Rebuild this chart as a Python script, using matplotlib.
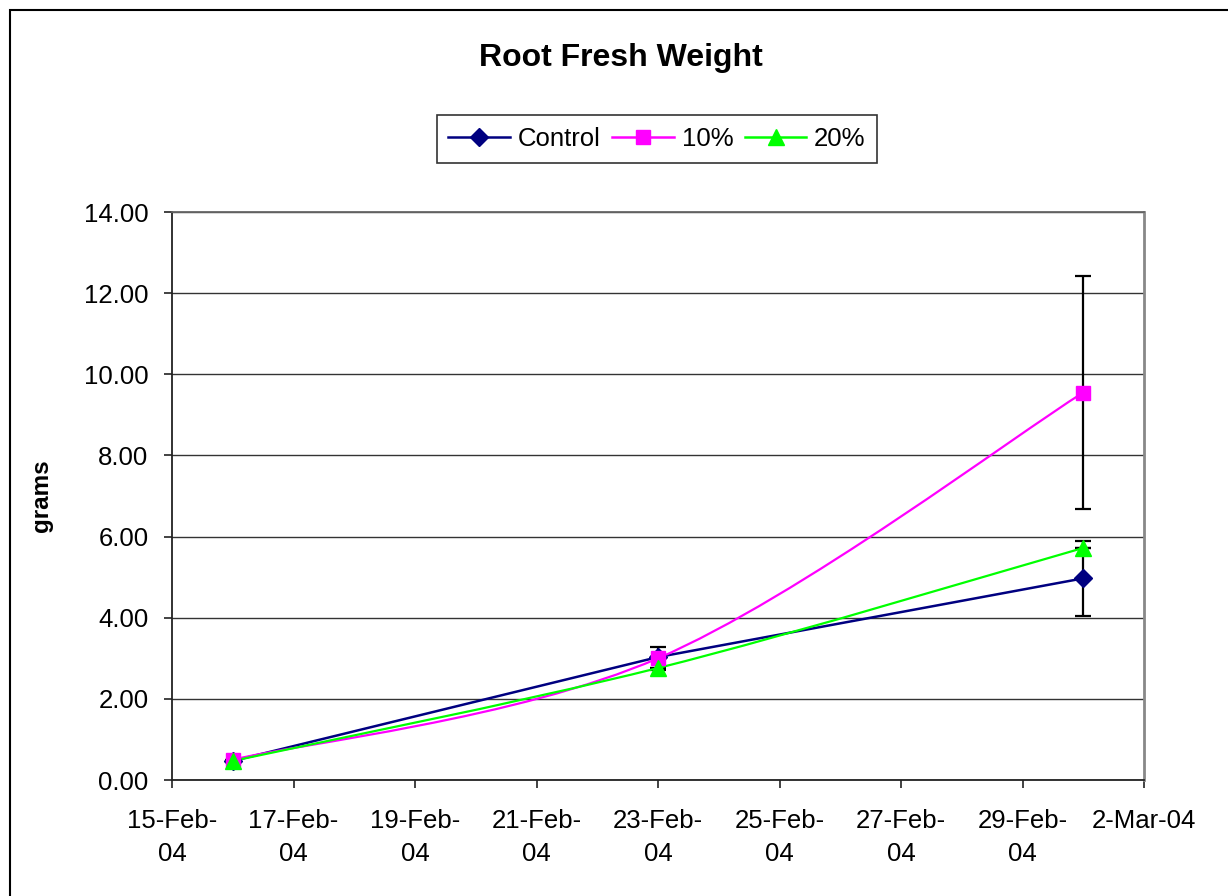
import numpy as np
import matplotlib
matplotlib.use('Agg')
import matplotlib.pyplot as plt
import matplotlib.dates as mdates
from matplotlib.path import Path
from matplotlib.patches import PathPatch, Rectangle
from matplotlib.lines import Line2D
from matplotlib.ticker import FuncFormatter, MultipleLocator
from datetime import datetime

plt.rcParams['font.family'] = ['Liberation Sans', 'DejaVu Sans']

# данные
dates = [datetime(2004, 2, 16), datetime(2004, 2, 23), datetime(2004, 3, 1)]
control = [0.47, 3.03, 4.97]
pct10 = [0.50, 3.00, 9.55]
pct20 = [0.47, 2.76, 5.72]
control_err = [0.0, 0.0, 0.93]
pct10_err = [0.0, 0.28, 2.87]
pct20_err = [0.0, 0.0, 0.0]

series = [
    ('Control', control, control_err, '#000080', 'D', 9, False),
    ('10%', pct10, pct10_err, '#FF00FF', 's', 10, True),
    ('20%', pct20, pct20_err, '#00FF00', '^', 12, True),
]


# сглаженная линия как в Excel (кривые Безье через точки)
def smooth_path(xs, ys):
    pts = np.column_stack([xs, ys])
    n = len(pts)
    verts = [pts[0]]
    codes = [Path.MOVETO]
    for i in range(n - 1):
        p0 = pts[i - 1] if i > 0 else pts[i]
        p1 = pts[i]
        p2 = pts[i + 1]
        p3 = pts[i + 2] if i + 2 < n else pts[i + 1]
        c1 = p1 + (p2 - p0) / 6.0
        c2 = p2 - (p3 - p1) / 6.0
        verts += [c1, c2, p2]
        codes += [Path.CURVE4] * 3
    return Path(verts, codes)


# подпись даты в стиле Excel: перенос строки после месяца
def date_label(v, pos):
    d = mdates.num2date(v)
    if d.day < 10:
        return '%d-%s-%s' % (d.day, d.strftime('%b'), d.strftime('%y'))
    return '%d-%s-\n%s' % (d.day, d.strftime('%b'), d.strftime('%y'))


fig = plt.figure(figsize=(12.28, 8.96), dpi=100)
ax = fig.add_axes([172 / 1228, 1 - 780 / 896, (1144 - 172) / 1228, (780 - 212) / 896])

xnum = mdates.date2num(dates)
handles = []
for name, vals, errs, color, marker, ms, smooth in series:
    if smooth:
        ax.add_patch(PathPatch(smooth_path(xnum, vals), facecolor='none',
                               edgecolor=color, lw=1.6, zorder=3))
    else:
        ax.plot(dates, vals, color=color, lw=1.8, zorder=3)
    ax.errorbar(dates, vals, yerr=errs, fmt='none', ecolor='black',
                elinewidth=1.6, capsize=6, capthick=1.6, zorder=2)
    ax.plot(dates, vals, linestyle='none', marker=marker, markersize=ms,
            color=color, markeredgecolor=color, zorder=4)
    handles.append(Line2D([], [], color=color, lw=1.8, marker=marker,
                          markersize=ms, markeredgecolor=color, label=name))

ax.set_xlim(datetime(2004, 2, 15), datetime(2004, 3, 2))
ax.set_ylim(0, 14)
ax.yaxis.set_major_locator(MultipleLocator(2))
ax.yaxis.set_major_formatter(FuncFormatter(lambda v, p: '%.2f' % v))
ax.xaxis.set_major_locator(mdates.DayLocator(interval=2))
ax.xaxis.set_major_formatter(FuncFormatter(date_label))

ax.grid(axis='y', color='#333333', lw=1.0)
ax.set_axisbelow(True)
ax.tick_params(axis='both', labelsize=18.5, direction='out', length=6,
               width=1.2, color='#222222')
ax.tick_params(axis='x', pad=15)
ax.tick_params(axis='y', pad=11)
fig.canvas.draw()
for lbl in ax.get_xticklabels():
    lbl.set_linespacing(1.45)

ax.spines['left'].set_color('#222222')
ax.spines['bottom'].set_color('#222222')
ax.spines['top'].set_color('#666666')
ax.spines['right'].set_color('#888888')
for s in ax.spines.values():
    s.set_linewidth(1.3)
ax.spines['right'].set_linewidth(2)

ax.set_ylabel('grams', fontsize=17.5, fontweight='bold')
ax.yaxis.set_label_coords(-0.122, 0.5)

fig.text(621 / 1228, 1 - 58 / 896, 'Root Fresh Weight', fontsize=23,
         fontweight='bold', ha='center', va='center')

leg = fig.legend(handles=handles, loc='center', ncol=3, fontsize=18.5,
                 bbox_to_anchor=(657 / 1228, 1 - 139 / 896), frameon=True,
                 fancybox=False, edgecolor='black', handlelength=2.4,
                 handletextpad=0.3, columnspacing=0.45, borderpad=0.45,
                 borderaxespad=0)
leg.get_frame().set_linewidth(1.2)

# рамка вокруг диаграммы
fig.patches.append(Rectangle((10 / 1228, -0.1), 1.2, 1 - 10 / 896 + 0.1,
                             transform=fig.transFigure, fill=False,
                             edgecolor='black', lw=1.5))

fig.savefig('out.png', dpi=100)
